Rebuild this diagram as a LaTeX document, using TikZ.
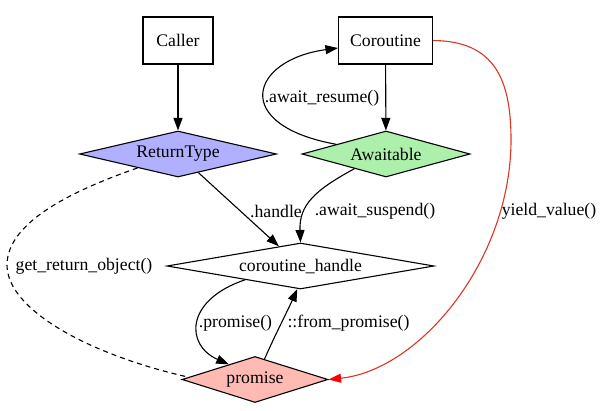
\documentclass[tikz,border=0pt]{standalone}
\usepackage{fontspec}
\setmainfont{Liberation Serif}
\usetikzlibrary{shapes.geometric,arrows.meta}
\definecolor{rtblue}{RGB}{176,176,255}
\definecolor{awgreen}{RGB}{172,240,172}
\definecolor{prpink}{RGB}{255,186,180}
\definecolor{yieldred}{RGB}{222,52,36}
\tikzset{
  lbl/.style={font=\fontsize{17.7}{20}\selectfont, inner sep=0pt},
  boxnode/.style={draw, line width=1.1pt, minimum width=#1, minimum height=47pt, inner sep=0pt,
    font=\fontsize{17.7}{20}\selectfont},
  dnode/.style={draw, line width=1.1pt, diamond, shape aspect=4, inner sep=0pt,
    minimum width=#1, minimum height=46pt, font=\fontsize{17.7}{20}\selectfont},
  edge/.style={line width=1.1pt, -{Triangle[length=12.5pt,width=9pt]}},
}
\begin{document}
\begin{tikzpicture}[x=1pt,y=-1pt]
\useasboundingbox (0,0) rectangle (604,411);

% nodes
\node[boxnode=70pt]  (caller) at (178,40.5)  {Caller};
\node[boxnode=94pt]  (co)     at (385.5,40.5)  {Coroutine};
\node[dnode=197pt, fill=rtblue]  (rt) at (178,154)   {ReturnType};
\node[dnode=168pt, fill=awgreen] (aw) at (386,154) {Awaitable};
\node[dnode=267pt, fill=white]   (ch) at (300.5,266) {coroutine\_handle};
\node[dnode=146pt, fill=prpink]  (pr) at (255,379.5) {promise};

% edge labels
\node[lbl] (lresume)  at (322,98)    {.await\_resume()};
\node[lbl] (lhandle)  at (276,211)   {.handle};
\node[lbl] (lsuspend) at (375,211)   {.await\_suspend()};
\node[lbl] (lyield)   at (549,211)   {yield\_value()};
\node[lbl] (lgro)     at (84,266)    {get\_return\_object()};
\node[lbl] (lprom)    at (235.5,323) {.promise()};
\node[lbl] (lfrom)    at (348.5,323) {::from\_promise()};

% connectors
\draw[edge] (caller) -- (rt);
\draw[edge] (co) -- (aw);
\draw[edge] (aw.169) .. controls (230,125) and (250,60) .. (co.west |- 0,48);
\draw[edge] (rt) -- (ch);
\draw[edge] (aw.205) .. controls (315,190) and (299,205) .. (ch.north);
\draw[edge] (ch.194) .. controls (185,300) and (185,345) .. (pr.150);
\draw[edge] (pr.65) .. controls (275,335) and (288,310) .. (ch.262);
\draw[line width=1.1pt, dashed, dash pattern=on 5pt off 4pt]
  (rt.199) .. controls (80,188) and (7,220) .. (7,265)
           .. controls (7,310) and (90,355) .. (pr.178);
\draw[line width=1.1pt, yieldred, -{Triangle[length=12.5pt,width=9pt,color=red]}]
  (co.east) .. controls (495,41) and (511,80) .. (511,140)
            .. controls (511,260) and (420,370) .. (pr.east);
\end{tikzpicture}
\end{document}
